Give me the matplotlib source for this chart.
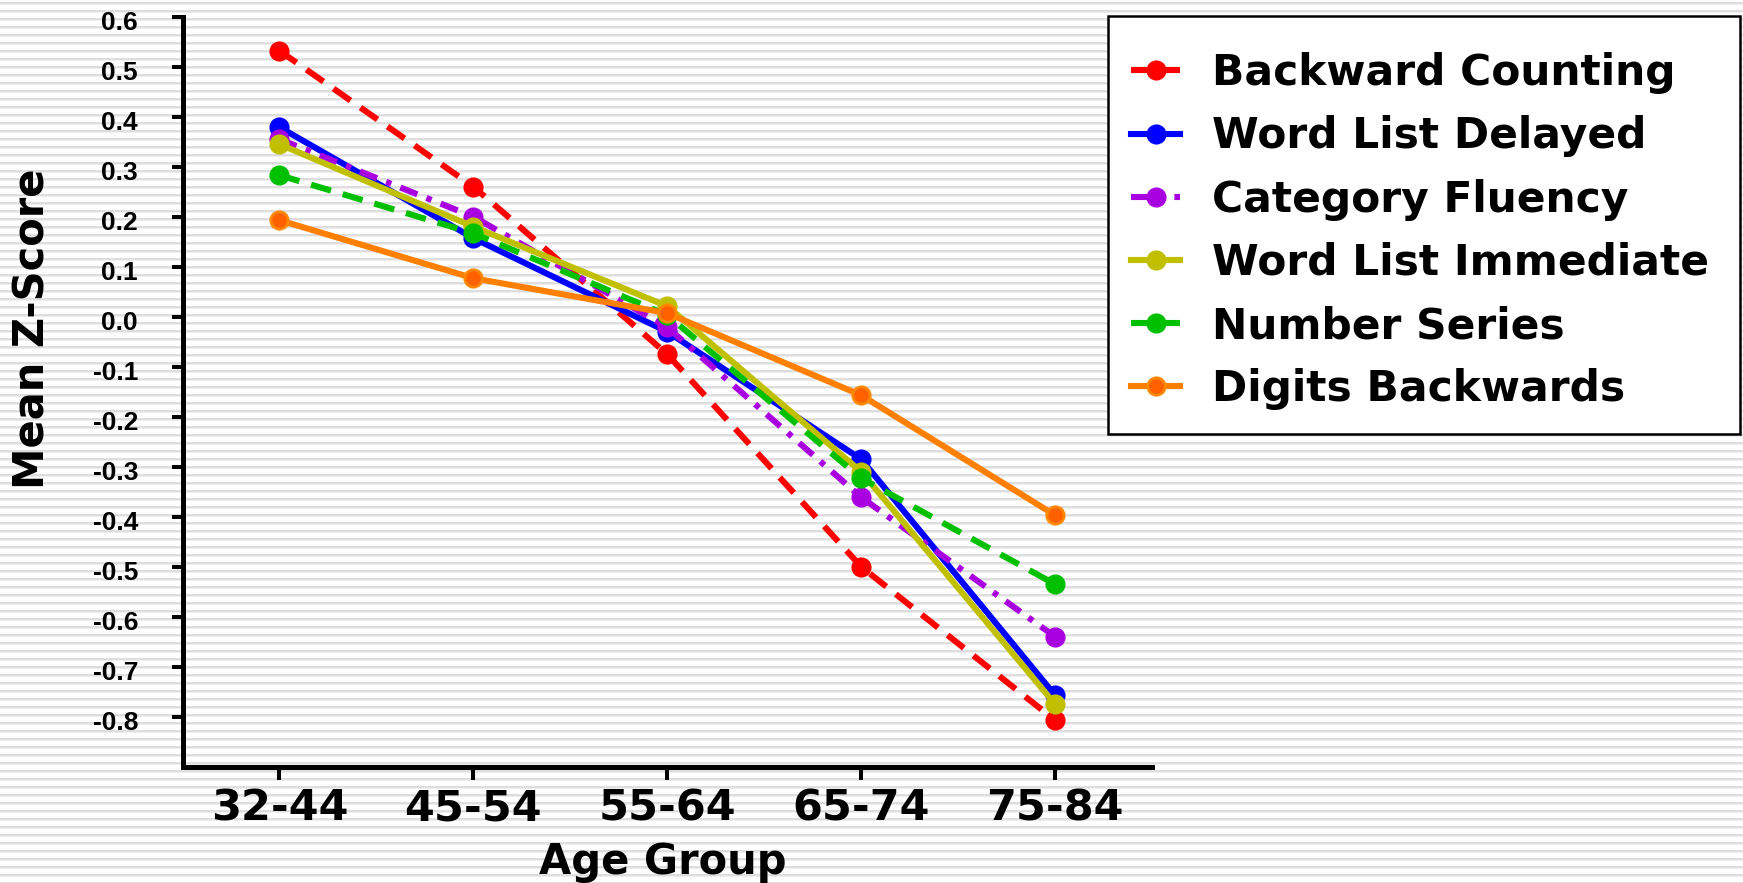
import numpy as np
import matplotlib
matplotlib.use("Agg")
import matplotlib.pyplot as plt
import matplotlib.transforms as mtransforms
from matplotlib.patches import Rectangle

# ---- data ----
age_groups = ["32-44", "45-54", "55-64", "65-74", "75-84"]
backward_counting = [0.532, 0.260, -0.075, -0.500, -0.807]
word_list_delayed = [0.379, 0.157, -0.030, -0.285, -0.757]
category_fluency = [0.355, 0.200, -0.021, -0.361, -0.640]
word_list_immediate = [0.345, 0.180, 0.021, -0.310, -0.775]
number_series = [0.283, 0.167, 0.003, -0.323, -0.535]
digits_backwards = [0.193, 0.077, 0.007, -0.157, -0.397]
series_names = ["Backward Counting", "Word List Delayed", "Category Fluency",
                "Word List Immediate", "Number Series", "Digits Backwards"]
yticks = [0.6, 0.5, 0.4, 0.3, 0.2, 0.1, 0.0, -0.1, -0.2, -0.3, -0.4, -0.5, -0.6, -0.7, -0.8]

W, H, DPI = 1743, 883, 100
fig = plt.figure(figsize=(W / DPI, H / DPI), dpi=DPI, facecolor="white")

# striped background texture
bg = np.full((H, W, 3), 255, dtype=np.uint8)
rows = np.arange(H)
bg[(rows % 8 == 2) | (rows % 8 == 3)] = 222
bg[rows % 8 == 4] = 238
fig.figimage(bg, 0, 0, zorder=-5, origin="upper")

ax = fig.add_axes([182.5 / W, 1 - 766.7 / H, (1152 - 182.5) / W, (766.7 - 16.7) / H])
ax.patch.set_alpha(0)

x = np.arange(len(age_groups))
styles = [
    (backward_counting, "#ff0000", (0, (3.4, 2.0)), None, None),
    (word_list_delayed, "#0000ff", "-", None, None),
    (category_fluency, "#a800e0", (0, (3.0, 1.6, 0.9, 1.6)), None, None),
    (word_list_immediate, "#c0c000", "-", None, None),
    (number_series, "#00c000", (0, (3.4, 2.0)), None, None),
    (digits_backwards, "#ff8000", "-", "#ff6000", "#ff8800"),
]
for (vals, col, ls, mfc, mec), name in zip(styles, series_names):
    ax.plot(x, vals, color=col, linestyle=ls, linewidth=4.4, marker="o",
            markersize=12.5, markerfacecolor=mfc if mfc else col,
            markeredgecolor=mec if mec else col, markeredgewidth=2,
            label=name)

ax.set_xlim(-0.5, 4.5)
ax.set_ylim(-0.9, 0.6)
ax.set_xticks(x)
ax.set_xticklabels(age_groups, fontsize=31, fontweight="bold", family="DejaVu Sans")
ax.set_yticks(yticks)
ax.set_yticklabels([f"{v:.1f}" for v in yticks], fontsize=19, fontweight="bold",
                   family="Liberation Sans")
ax.tick_params(axis="y", direction="out", length=8, width=2.9, pad=24)
ax.tick_params(axis="x", direction="out", length=9, width=2.9, pad=6)
shift = mtransforms.ScaledTranslation(0, -3 / 72, fig.dpi_scale_trans)
for lab in ax.get_yticklabels():
    lab.set_transform(lab.get_transform() + shift)
for s in ("top", "right"):
    ax.spines[s].set_visible(False)
for s in ("left", "bottom"):
    ax.spines[s].set_linewidth(3.6)

fig.text(33 / W, 1 - 329 / H, "Mean Z-Score", rotation=90, ha="center", va="center",
         fontsize=30, fontweight="bold", family="DejaVu Sans")
fig.text(663 / W, 1 - 874 / H, "Age Group", ha="center", va="baseline",
         fontsize=30, fontweight="bold", family="DejaVu Sans")

# legend frame drawn separately
frame = Rectangle((1108 / W, 1 - 434 / H), (1740 - 1108) / W, (434 - 16) / H,
                  transform=fig.transFigure, facecolor="white", edgecolor="black",
                  linewidth=1.8, zorder=4)
fig.add_artist(frame)

leg = fig.legend(loc="upper left", bbox_to_anchor=(1108 / W, 1 - 29 / H),
                 bbox_transform=fig.transFigure, frameon=False,
                 prop={"family": "DejaVu Sans", "weight": "bold", "size": 30.5},
                 borderpad=0.55, labelspacing=0.5, handlelength=1.15,
                 handletextpad=0.75, borderaxespad=0)
leg.set_zorder(5)

fig.savefig("out.png", dpi=DPI)
